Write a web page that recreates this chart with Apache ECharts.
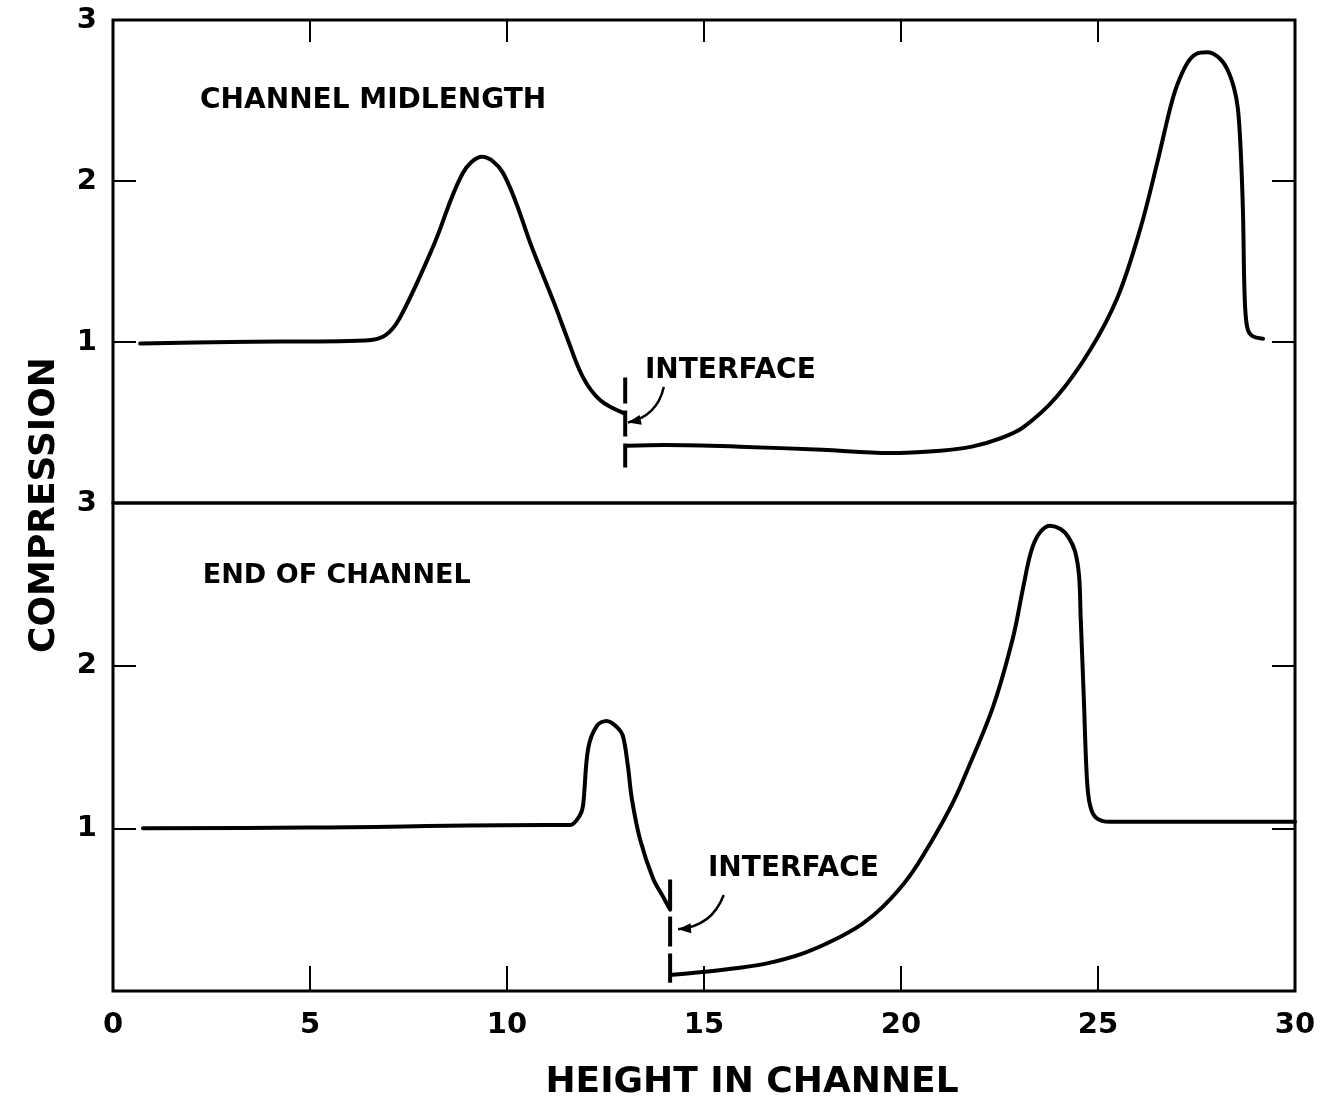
<!DOCTYPE html>
<html>
<head>
<meta charset="utf-8">
<script src="https://cdn.jsdelivr.net/npm/echarts@6/dist/echarts.min.js"></script>
<style>
html,body{margin:0;padding:0;background:#fff;}
#chart{width:1322px;height:1103px;}
</style>
</head>
<body>
<div id="chart"></div>
<script>
// ---- data ----
const xTicks = [0, 5, 10, 15, 20, 25, 30];
const yTicks = [1, 2, 3];

// Channel midlength (top panel)
const midLeftX  = [0.69, 3.0, 6.4, 6.9, 7.28, 8.12, 8.88, 9.37, 9.9, 10.66, 11.2, 11.52, 11.93, 12.36, 12.95];
const midLeftY  = [0.99, 1.0, 1.01, 1.04, 1.15, 1.59, 2.05, 2.15, 2.05, 1.57, 1.24, 1.03, 0.78, 0.64, 0.56];
const midRightX = [13.05, 14.0, 15.9, 18.0, 19.7, 21.0, 21.8, 22.5, 23.1, 23.95, 24.8, 25.5, 26.07, 26.5, 26.83, 27.0, 27.26, 27.5, 27.77, 28.05, 28.27, 28.45, 28.55, 28.62, 28.68, 28.72, 28.78, 28.9, 29.19];
const midRightY = [0.355, 0.36, 0.35, 0.33, 0.31, 0.325, 0.35, 0.40, 0.47, 0.66, 0.95, 1.28, 1.70, 2.11, 2.45, 2.59, 2.73, 2.79, 2.80, 2.77, 2.70, 2.58, 2.45, 2.20, 1.80, 1.30, 1.10, 1.04, 1.02];
const midIfaceX = [13.0, 13.0];
const midIfaceY = [0.78, 0.22];

// End of channel (bottom panel)
const endLeftX  = [0.76, 5.0, 11.0, 11.6, 11.85, 11.93, 12.06, 12.28, 12.53, 12.8, 12.94, 13.07, 13.17, 13.38, 13.71, 13.96, 14.14];
const endLeftY  = [1.0, 1.005, 1.02, 1.02, 1.08, 1.14, 1.49, 1.63, 1.66, 1.62, 1.57, 1.38, 1.18, 0.93, 0.69, 0.58, 0.50];
const endRightX = [14.2, 14.97, 15.8, 16.6, 17.5, 18.27, 19.0, 19.55, 20.2, 20.8, 21.3, 21.67, 22.34, 22.84, 23.1, 23.3, 23.5, 23.78, 24.05, 24.25, 24.42, 24.52, 24.56, 24.64, 24.72, 24.8, 24.95, 25.3, 30.0];
const endRightY = [0.10, 0.117, 0.14, 0.17, 0.23, 0.31, 0.41, 0.52, 0.70, 0.93, 1.15, 1.35, 1.75, 2.17, 2.48, 2.70, 2.81, 2.86, 2.84, 2.79, 2.70, 2.55, 2.30, 1.80, 1.30, 1.14, 1.065, 1.04, 1.04];
const endIfaceX = [14.14, 14.14];
const endIfaceY = [0.685, 0.05];

// annotations
const labelText  = ['CHANNEL MIDLENGTH', 'INTERFACE', 'END OF CHANNEL', 'INTERFACE'];
const labelX     = [2.21, 13.5, 2.28, 15.1];
const labelY     = [2.50, 0.82, 2.55, 0.75];
const labelPanel = [0, 0, 1, 1];
// arrows: from (x1,y1) to (x2,y2), per panel
const arrowFrom  = [[13.98, 0.72], [15.5, 0.59]];
const arrowTo    = [[13.07, 0.50], [14.34, 0.38]];
const arrowPanel = [0, 1];

// ---- build ----
const zip = (xs, ys) => xs.map((x, i) => [x, ys[i]]);
const FONT = '"DejaVu Sans", "Liberation Sans", sans-serif';
const INK = '#000';

const chart = echarts.init(document.getElementById('chart'), null, {renderer: 'canvas'});

const grids = [
  {left: 113, top: 20, width: 1182, height: 483, show: true, borderColor: INK, borderWidth: 3, backgroundColor: 'transparent'},
  {left: 113, top: 503, width: 1182, height: 488, show: true, borderColor: INK, borderWidth: 3, backgroundColor: 'transparent'}
];

function xAx(gi, pos, showLabel, tickLen) {
  return {
    type: 'value', gridIndex: gi, position: pos, min: 0, max: 30, interval: 5,
    axisLine: {show: false, onZero: false},
    axisTick: {show: true, inside: true, length: tickLen, lineStyle: {color: INK, width: 2}},
    axisLabel: {show: showLabel, margin: 20, color: INK, fontFamily: FONT, fontWeight: 'bold', fontSize: 29,
      formatter: v => xTicks.includes(v) ? String(v) : ''},
    splitLine: {show: false}
  };
}
function yAx(gi, pos, showLabel) {
  return {
    type: 'value', gridIndex: gi, position: pos, min: 0, max: 3, interval: 1,
    axisLine: {show: false, onZero: false},
    axisTick: {show: true, inside: true, length: 23, lineStyle: {color: INK, width: 2}},
    axisLabel: {show: showLabel, margin: 16, color: INK, fontFamily: FONT, fontWeight: 'bold', fontSize: 29,
      formatter: v => yTicks.includes(v) ? String(v) : ''},
    splitLine: {show: false}
  };
}

const lineStyle = {color: INK, width: 4, cap: 'round', join: 'round'};
function curve(xs, ys, gi) {
  return {type: 'line', xAxisIndex: gi, yAxisIndex: gi * 2, data: zip(xs, ys),
    symbol: 'none', smooth: 0.35, lineStyle: lineStyle, silent: true, z: 5};
}
function iface(xs, ys, gi, dash) {
  return {type: 'line', xAxisIndex: gi, yAxisIndex: gi * 2, data: zip(xs, ys),
    symbol: 'none', lineStyle: {color: INK, width: 4, type: dash}, silent: true, z: 5};
}

const series = [
  curve(midLeftX, midLeftY, 0),
  curve(midRightX, midRightY, 0),
  iface(midIfaceX, midIfaceY, 0, [26, 7]),
  curve(endLeftX, endLeftY, 1),
  curve(endRightX, endRightY, 1),
  iface(endIfaceX, endIfaceY, 1, [30, 7])
];
labelText.forEach((t, i) => {
  const gi = labelPanel[i];
  series.push({
    type: 'scatter', xAxisIndex: gi, yAxisIndex: gi * 2, symbolSize: 0, silent: true,
    itemStyle: {opacity: 1},
    data: [[labelX[i], labelY[i]]],
    label: {show: true, position: 'right', distance: 0, formatter: t, color: INK,
      fontFamily: FONT, fontWeight: 'bold', fontSize: i === 2 ? 27 : 28}
  });
});

const baseGraphic = [
  {type: 'text', x: 45, y: 505, rotation: Math.PI / 2,
    style: {text: 'COMPRESSION', fill: INK, font: 'bold 36px ' + FONT, textAlign: 'center', textVerticalAlign: 'middle'}},
  {type: 'text', x: 752, y: 1083,
    style: {text: 'HEIGHT IN CHANNEL', fill: INK, font: 'bold 36px ' + FONT, textAlign: 'center', textVerticalAlign: 'middle'}}
];

chart.setOption({
  animation: false,
  backgroundColor: '#fff',
  grid: grids,
  xAxis: [xAx(0, 'top', false, 22), xAx(1, 'bottom', true, 25)],
  yAxis: [yAx(0, 'left', true), yAx(0, 'right', false), yAx(1, 'left', true), yAx(1, 'right', false)],
  series: series,
  graphic: baseGraphic
});

// curved annotation arrows, positioned through the chart's own coordinate system
const arrowGraphic = [];
arrowFrom.forEach((f, i) => {
  const p0 = chart.convertToPixel({gridIndex: arrowPanel[i]}, f);
  const p1 = chart.convertToPixel({gridIndex: arrowPanel[i]}, arrowTo[i]);
  const dx = p1[0] - p0[0], dy = p1[1] - p0[1];
  const c = 0.32;
  const cp = [(p0[0] + p1[0]) / 2 + c * dy, (p0[1] + p1[1]) / 2 - c * dx];
  arrowGraphic.push({type: 'bezierCurve', silent: true, z: 10,
    shape: {x1: p0[0], y1: p0[1], x2: p1[0], y2: p1[1], cpx1: cp[0], cpy1: cp[1]},
    style: {stroke: INK, lineWidth: 2.5, fill: null}});
  let ux = p1[0] - cp[0], uy = p1[1] - cp[1];
  const L = Math.hypot(ux, uy); ux /= L; uy /= L;
  const hl = 13, hw = 5;
  const bx = p1[0] - ux * hl, by = p1[1] - uy * hl;
  arrowGraphic.push({type: 'polygon', silent: true, z: 10,
    shape: {points: [[p1[0], p1[1]], [bx - uy * hw, by + ux * hw], [bx + uy * hw, by - ux * hw]]},
    style: {fill: INK}});
});
chart.setOption({graphic: baseGraphic.concat(arrowGraphic)});
</script>
</body>
</html>
